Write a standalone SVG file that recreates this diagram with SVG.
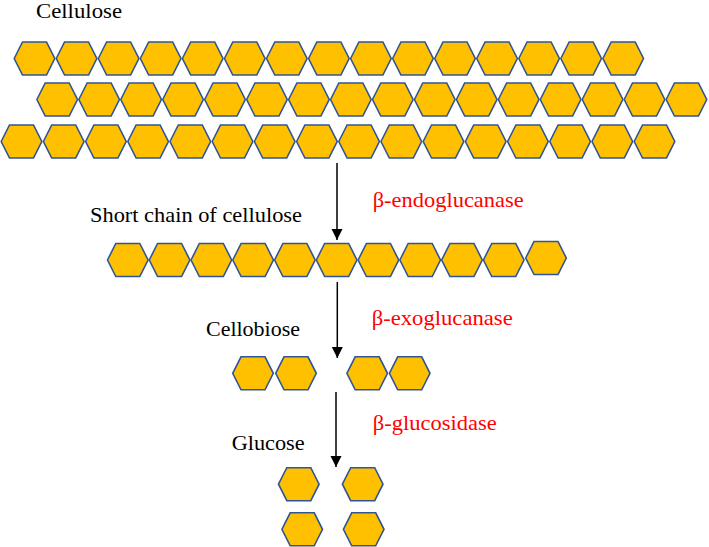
<svg xmlns="http://www.w3.org/2000/svg" xmlns:xlink="http://www.w3.org/1999/xlink" width="709" height="547" viewBox="0 0 709 547">
<style>
.hex{fill:#FFC000;stroke:#2F5597;stroke-width:1.6;stroke-linejoin:miter}
.lbl{font-family:'Liberation Serif','DejaVu Serif','Noto Serif','Times New Roman',serif;font-size:21px;fill:#000}
.enz{font-family:'Liberation Serif','DejaVu Serif','Noto Serif','Times New Roman',serif;font-size:21px;fill:#FF0000}
.arr{stroke:#000;stroke-width:1.5;fill:none}
</style>
<defs>
<path id="h" class="hex" d="M-20.3,0 L-12,-16.5 L12,-16.5 L20.3,0 L12,16.5 L-12,16.5 Z"/>
<marker id="ah" markerUnits="userSpaceOnUse" markerWidth="12" markerHeight="12" viewBox="0 0 12 12" refX="11" refY="6" orient="auto">
<path d="M0,0.5 L11,6 L0,11.5 Z" fill="#000"/>
</marker>
</defs>
<rect width="709" height="547" fill="#fff"/>
<g id="cellulose">
<text class="lbl" x="36" y="18" textLength="86" lengthAdjust="spacingAndGlyphs" font-family="Liberation Serif, serif">Cellulose</text>
<g id="row1">
<use href="#h" x="34.5" y="58.5"/><use href="#h" x="76.55" y="58.5"/><use href="#h" x="118.6" y="58.5"/><use href="#h" x="160.65" y="58.5"/><use href="#h" x="202.7" y="58.5"/><use href="#h" x="244.75" y="58.5"/><use href="#h" x="286.8" y="58.5"/><use href="#h" x="328.85" y="58.5"/><use href="#h" x="370.9" y="58.5"/><use href="#h" x="412.95" y="58.5"/><use href="#h" x="455" y="58.5"/><use href="#h" x="497.05" y="58.5"/><use href="#h" x="539.1" y="58.5"/><use href="#h" x="581.15" y="58.5"/><use href="#h" x="623.2" y="58.5"/>
</g>
<g id="row2">
<use href="#h" x="57.2" y="99.5"/><use href="#h" x="99.15" y="99.5"/><use href="#h" x="141.1" y="99.5"/><use href="#h" x="183.05" y="99.5"/><use href="#h" x="225" y="99.5"/><use href="#h" x="266.95" y="99.5"/><use href="#h" x="308.9" y="99.5"/><use href="#h" x="350.85" y="99.5"/><use href="#h" x="392.8" y="99.5"/><use href="#h" x="434.75" y="99.5"/><use href="#h" x="476.7" y="99.5"/><use href="#h" x="518.65" y="99.5"/><use href="#h" x="560.6" y="99.5"/><use href="#h" x="602.55" y="99.5"/><use href="#h" x="644.5" y="99.5"/><use href="#h" x="686.45" y="99.5"/>
</g>
<g id="row3">
<use href="#h" x="21.5" y="141.5"/><use href="#h" x="63.7" y="141.5"/><use href="#h" x="105.9" y="141.5"/><use href="#h" x="148.1" y="141.5"/><use href="#h" x="190.3" y="141.5"/><use href="#h" x="232.5" y="141.5"/><use href="#h" x="274.7" y="141.5"/><use href="#h" x="316.9" y="141.5"/><use href="#h" x="359.1" y="141.5"/><use href="#h" x="401.3" y="141.5"/><use href="#h" x="443.5" y="141.5"/><use href="#h" x="485.7" y="141.5"/><use href="#h" x="527.9" y="141.5"/><use href="#h" x="570.1" y="141.5"/><use href="#h" x="612.3" y="141.5"/><use href="#h" x="654.5" y="141.5"/>
</g>
</g>
<g id="short-chain">
<text class="lbl" x="90" y="222" textLength="212" lengthAdjust="spacingAndGlyphs">Short chain of cellulose</text>
<use href="#h" x="127.8" y="260"/><use href="#h" x="169.57" y="260"/><use href="#h" x="211.34" y="260"/><use href="#h" x="253.11" y="260"/><use href="#h" x="294.88" y="260"/><use href="#h" x="336.65" y="260"/><use href="#h" x="378.42" y="260"/><use href="#h" x="420.19" y="260"/><use href="#h" x="461.96" y="260"/><use href="#h" x="503.73" y="260"/><use href="#h" x="546" y="258"/>
</g>
<g id="cellobiose">
<text class="lbl" x="206" y="336" textLength="94" lengthAdjust="spacingAndGlyphs">Cellobiose</text>
<use href="#h" x="253" y="373.3"/><use href="#h" x="296" y="373.3"/><use href="#h" x="367.2" y="373.3"/><use href="#h" x="409.7" y="373.3"/>
</g>
<g id="glucose">
<text class="lbl" x="231.7" y="450" textLength="73" lengthAdjust="spacingAndGlyphs">Glucose</text>
<use href="#h" x="298.8" y="484.2"/><use href="#h" x="362.7" y="484.2"/><use href="#h" x="302.2" y="529.3"/><use href="#h" x="363.7" y="529.3"/>
</g>
<g id="connectors">
<line class="arr" x1="337" y1="163" x2="337" y2="240" marker-end="url(#ah)"/>
<line class="arr" x1="337.3" y1="282" x2="337.3" y2="358" marker-end="url(#ah)"/>
<line class="arr" x1="336" y1="392" x2="336" y2="467" marker-end="url(#ah)"/>
</g>
<g id="enzymes">
<text class="enz" x="372.7" y="207" textLength="151" lengthAdjust="spacingAndGlyphs">β-endoglucanase</text>
<text class="enz" x="371.7" y="325" textLength="141" lengthAdjust="spacingAndGlyphs">β-exoglucanase</text>
<text class="enz" x="372.7" y="430" textLength="124" lengthAdjust="spacingAndGlyphs">β-glucosidase</text>
</g>
</svg>
